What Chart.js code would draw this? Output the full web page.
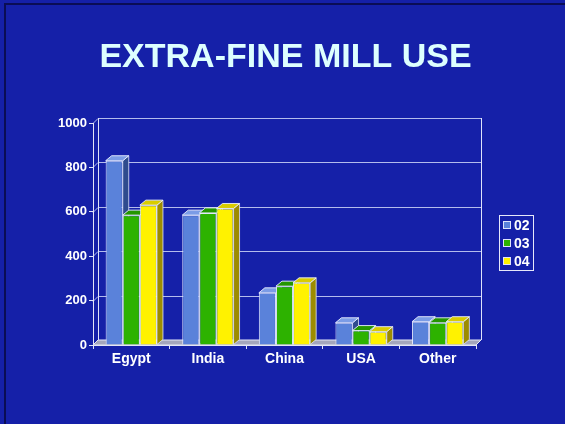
<!DOCTYPE html>
<html>
<head>
<meta charset="utf-8">
<title>Extra-fine mill use</title>
<script src="https://cdn.jsdelivr.net/npm/chart.js@4/dist/chart.umd.min.js"></script>
<style>
  html, body { margin: 0; padding: 0; background: #1520a8; }
  .slide { position: relative; width: 565px; height: 424px; background: #1520a8; overflow: hidden; }
  .slide .frame { position: absolute; left: 4px; top: 3px; right: -10px; bottom: -10px;
    border-left: 2px solid #0a0d55; border-top: 2px solid #0a0d55; }
  .slide canvas { position: absolute; left: 0; top: 0; }
</style>
</head>
<body>
<div class="slide">
  <div class="frame"></div>
  <canvas id="millChart" width="565" height="424"></canvas>
</div>
<script>
// Chart data
const regions = ['Egypt', 'India', 'China', 'USA', 'Other'];
const years = ['02', '03', '04'];
const use02 = [830, 585, 235, 100, 105];
const use03 = [585, 595, 265, 65, 100];
const use04 = [630, 615, 280, 60, 105];
const yTicks = [0, 200, 400, 600, 800, 1000];
const chartTitle = 'EXTRA-FINE MILL USE';

// front / side / top shades for each series
const shades = [
    { front: '#5a82da', side: '#2f4b8e', top: '#7b9ce6' },
    { front: '#2db200', side: '#1b6e00', top: '#249600' },
    { front: '#fff200', side: '#9c8c00', top: '#d9cc00' }
];

const BAR_DX = 6, BAR_DY = 5;   // bar depth
const WALL_D = 5;               // back wall offset
const gridColor = '#b4bcec';
const FONT = '"Liberation Sans", Arial, sans-serif';

function poly(ctx, pts, fill, stroke) {
    ctx.beginPath();
    ctx.moveTo(pts[0][0], pts[0][1]);
    for (let i = 1; i < pts.length; i++) ctx.lineTo(pts[i][0], pts[i][1]);
    ctx.closePath();
    ctx.fillStyle = fill;
    ctx.fill();
    if (stroke) {
        ctx.strokeStyle = stroke;
        ctx.lineWidth = 1;
        ctx.stroke();
    }
}

// slide title
const titlePlugin = {
    id: 'slideTitle',
    afterDraw(chart) {
        const ctx = chart.ctx;
        ctx.save();
        ctx.font = 'bold 34px ' + FONT;
        ctx.fillStyle = '#ddffff';
        ctx.textAlign = 'center';
        ctx.textBaseline = 'alphabetic';
        ctx.fillText(chartTitle, 285.5, 67);
        ctx.restore();
    }
};

// back wall, floor and left wall
const wallPlugin = {
    id: 'wall3d',
    beforeDraw(chart) {
        const ctx = chart.ctx;
        const a = chart.chartArea;
        const y = chart.scales.y;
        const d = WALL_D;
        ctx.save();
        ctx.lineWidth = 1;
        ctx.strokeStyle = gridColor;
        yTicks.forEach(v => {
            const py = Math.round(y.getPixelForValue(v)) + 0.5;
            if (v > 0) {
                ctx.beginPath();
                ctx.moveTo(a.left + d, py - d);
                ctx.lineTo(a.right + d, py - d);
                ctx.stroke();
                ctx.beginPath();
                ctx.moveTo(a.left, py);
                ctx.lineTo(a.left + d, py - d);
                ctx.stroke();
            }
        });
        // wall edges
        ctx.strokeStyle = '#dfe3fb';
        ctx.beginPath();
        ctx.moveTo(a.left + d + 0.5, a.top - d);
        ctx.lineTo(a.left + d + 0.5, a.bottom - d);
        ctx.moveTo(a.right + d + 0.5, a.top - d);
        ctx.lineTo(a.right + d + 0.5, a.bottom - d);
        ctx.stroke();
        // floor
        poly(ctx, [[a.left, a.bottom], [a.left + d, a.bottom - d],
                   [a.right + d, a.bottom - d], [a.right, a.bottom]], '#a4a6bc', '#e4e6f6');
        ctx.restore();
    },
    beforeDatasetsDraw(chart) {
        const ctx = chart.ctx;
        ctx.save();
        chart.data.datasets.forEach((ds, i) => {
            const sh = shades[i];
            chart.getDatasetMeta(i).data.forEach(bar => {
                const p = bar.getProps(['x', 'y', 'base', 'width'], true);
                const L = p.x - p.width / 2, R = p.x + p.width / 2;
                const T = p.y, B = p.base;
                poly(ctx, [[R, T], [R + BAR_DX, T - BAR_DY], [R + BAR_DX, B - BAR_DY], [R, B]],
                     sh.side, 'rgba(225,230,250,0.8)');
                poly(ctx, [[L, T], [R, T], [R + BAR_DX, T - BAR_DY], [L + BAR_DX, T - BAR_DY]],
                     sh.top, 'rgba(235,240,255,0.9)');
            });
        });
        ctx.restore();
    }
};

// boxed legend on the right
const boxLegend = {
    id: 'boxLegend',
    afterDraw(chart) {
        const ctx = chart.ctx;
        const x0 = 499, y0 = 215, w = 34, h = 55;
        ctx.save();
        ctx.strokeStyle = '#e6e8fa';
        ctx.lineWidth = 1;
        ctx.strokeRect(x0 + 0.5, y0 + 0.5, w, h);
        ctx.font = 'bold 14px ' + FONT;
        ctx.textBaseline = 'middle';
        chart.data.datasets.forEach((ds, i) => {
            const cy = y0 + 10 + i * 18;
            ctx.fillStyle = shades[i].front;
            ctx.fillRect(x0 + 4, cy - 4, 8, 8);
            ctx.strokeStyle = '#dfe3fb';
            ctx.strokeRect(x0 + 4.5, cy - 3.5, 7, 7);
            ctx.fillStyle = '#ffffff';
            ctx.fillText(ds.label, x0 + 15, cy + 1);
        });
        ctx.restore();
    }
};

const ctx = document.getElementById('millChart').getContext('2d');
new Chart(ctx, {
    type: 'bar',
    data: {
        labels: regions,
        datasets: [use02, use03, use04].map((vals, i) => ({
            label: years[i],
            data: vals,
            backgroundColor: shades[i].front,
            borderColor: 'rgba(232,236,255,0.95)',
            borderWidth: 1,
            categoryPercentage: 0.67,
            barPercentage: 1
        }))
    },
    options: {
        responsive: false,
        animation: false,
        layout: { padding: { left: 50, right: 89, top: 123, bottom: 39 } },
        plugins: {
            legend: { display: false },
            tooltip: { enabled: false },
            title: { display: false }
        },
        scales: {
            x: {
                grid: { display: true, drawOnChartArea: false, offset: true, tickLength: 4, color: '#dfe3fb' },
                border: { display: true, color: '#e4e6f6' },
                ticks: { color: '#ffffff', padding: 2,
                         font: { family: FONT, size: 14, weight: 'bold' } },
                afterFit(scale) { scale.height = 40; }
            },
            y: {
                min: 0,
                max: 1000,
                afterBuildTicks(scale) { scale.ticks = yTicks.map(v => ({ value: v })); },
                grid: { display: true, drawOnChartArea: false, tickLength: 4, color: '#dfe3fb' },
                border: { display: true, color: '#e4e6f6' },
                ticks: { color: '#ffffff', padding: 2,
                         callback: v => String(v),
                         font: { family: FONT, size: 13, weight: 'bold' } },
                afterFit(scale) { scale.width = 43; }
            }
        }
    },
    plugins: [wallPlugin, boxLegend, titlePlugin]
});
</script>
</body>
</html>
